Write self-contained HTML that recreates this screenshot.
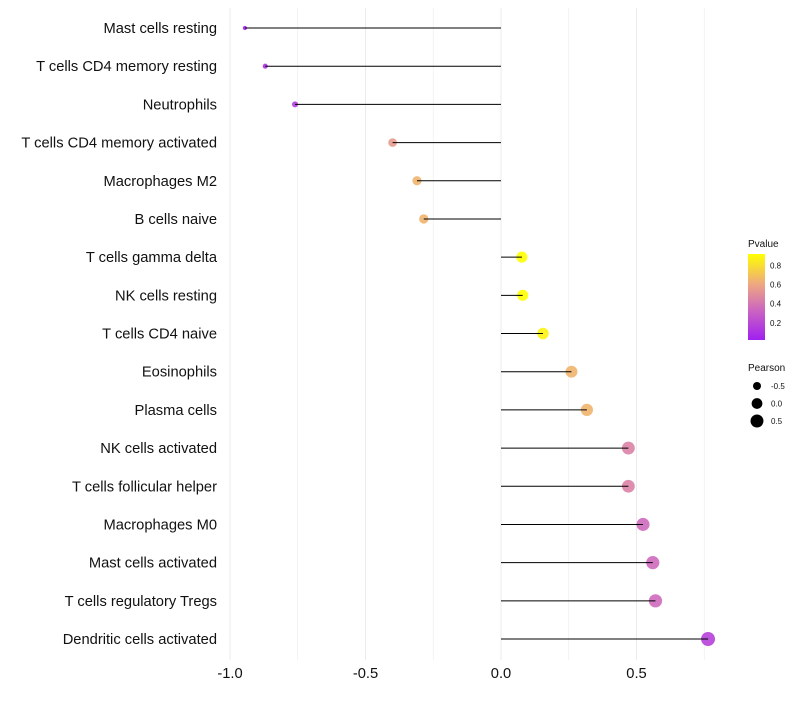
<!DOCTYPE html>
<html><head><meta charset="utf-8"><style>
body{margin:0;background:#fff;font-family:"Liberation Sans",sans-serif}
</style></head><body>
<svg id="c" width="800" height="700" xmlns="http://www.w3.org/2000/svg">
<defs><linearGradient id="g" x1="0" y1="1" x2="0" y2="0">
<stop offset="0" stop-color="#a020f0"/><stop offset="0.35" stop-color="#cc66c0"/><stop offset="0.65" stop-color="#eea880"/><stop offset="1" stop-color="#ffff00"/>
</linearGradient></defs>
</svg>
<script>
const categories=["Mast cells resting","T cells CD4 memory resting","Neutrophils","T cells CD4 memory activated","Macrophages M2","B cells naive","T cells gamma delta","NK cells resting","T cells CD4 naive","Eosinophils","Plasma cells","NK cells activated","T cells follicular helper","Macrophages M0","Mast cells activated","T cells regulatory  Tregs","Dendritic cells activated"];
const pearson=[-0.945,-0.87,-0.76,-0.40,-0.31,-0.285,0.077,0.08,0.155,0.26,0.317,0.47,0.47,0.524,0.56,0.57,0.764];
const pvalue=[0.05,0.1,0.15,0.55,0.65,0.65,0.92,0.92,0.88,0.65,0.65,0.45,0.45,0.35,0.35,0.35,0.17];
const xTicks=[-1.0,-0.5,0.0,0.5];
const xTickLabels=["-1.0","-0.5","0.0","0.5"];
const pTicks=[0.2,0.4,0.6,0.8];
const sizeLegend=[-0.5,0.0,0.5];
const NS="http://www.w3.org/2000/svg",svg=document.getElementById('c');
const x=v=>501+v*271;
const y=i=>28+i*(611/16);
const r=v=>Math.max(1.5,Math.sqrt(Math.max(0,29+26*v)));
const stops=[[0,[160,32,240]],[0.35,[204,102,192]],[0.65,[238,168,128]],[1,[255,255,0]]];
function col(p){const t=Math.max(0,Math.min(1,(p-0.02)/0.9));for(let k=1;k<stops.length;k++){if(t<=stops[k][0]){const a=stops[k-1],b=stops[k],f=(t-a[0])/(b[0]-a[0]);return 'rgb('+a[1].map((c,j)=>Math.round(c+(b[1][j]-c)*f)).join(',')+')';}}return 'rgb(255,255,0)';}
function el(t,a,txt){const e=document.createElementNS(NS,t);for(const k in a)e.setAttribute(k,a[k]);if(txt!==undefined)e.textContent=txt;svg.appendChild(e);return e;}
for(let v=-1;v<=0.76;v+=0.25){const g=el('line',{x1:x(v),x2:x(v),y1:8,y2:660,stroke:'#ebebeb','stroke-width':Math.abs(v*4%2)<0.01?1:0.6});

}
xTicks.forEach((v,i)=>{const t=el('text',{x:x(v),y:678,'text-anchor':'middle','font-size':14.7,fill:'#111'},xTickLabels[i]);

});
categories.forEach((c,i)=>{
const t=el('text',{x:217,y:y(i)+5,'text-anchor':'end','font-size':14.7,fill:'#111'},c);


const d=el('circle',{cx:x(pearson[i]),cy:y(i),r:r(pearson[i]),fill:col(pvalue[i]),'fill-opacity':0.9});


const l=el('line',{x1:x(0),x2:x(pearson[i]),y1:y(i),y2:y(i),stroke:'#000','stroke-width':1});


});
let t=el('text',{x:748,y:247,'font-size':10,fill:'#111'},'Pvalue');


const cb=el('rect',{x:748,y:254,width:17,height:86,fill:'url(#g)'});


pTicks.forEach(p=>{const yy=340-(p-0.02)/0.9*86;
const tl=el('text',{x:770,y:yy+3,'font-size':8,fill:'#111'},p.toFixed(1));

});
t=el('text',{x:748,y:371,'font-size':10,fill:'#111'},'Pearson');


sizeLegend.forEach((v,i)=>{const yy=386+i*17.5;
const c=el('circle',{cx:757,cy:yy,r:r(v),fill:'#000'});


const tl=el('text',{x:771,y:yy+3,'font-size':8,fill:'#111'},v.toFixed(1));

});
</script>
</body></html>
